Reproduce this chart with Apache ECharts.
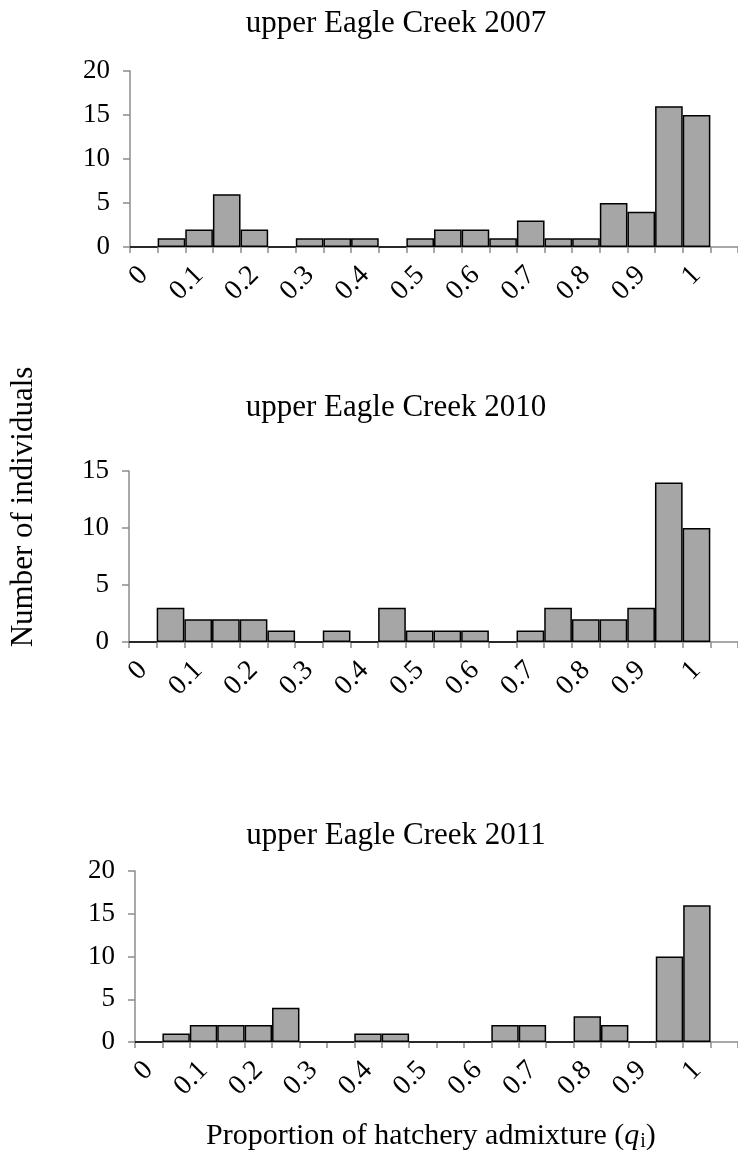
<!DOCTYPE html>
<html>
<head>
<meta charset="utf-8">
<script src="https://cdn.jsdelivr.net/npm/echarts@6/dist/echarts.min.js"></script>
<style>
  html, body { margin: 0; padding: 0; background: #fff; }
  #chart { width: 738px; height: 1150px; }
</style>
</head>
<body>
<div id="chart"></div>
<script>
// bin upper limits (0, 0.05, ... 1)
const bins = ['0', '0.05', '0.1', '0.15', '0.2', '0.25', '0.3', '0.35', '0.4', '0.45', '0.5',
  '0.55', '0.6', '0.65', '0.7', '0.75', '0.8', '0.85', '0.9', '0.95', '1']

const titles = ['upper Eagle Creek 2007', 'upper Eagle Creek 2010', 'upper Eagle Creek 2011']

const counts2007 = [0, 1, 2, 6, 2, 0, 1, 1, 1, 0, 1, 2, 2, 1, 3, 1, 1, 5, 4, 16, 15]
const counts2010 = [0, 3, 2, 2, 2, 1, 0, 1, 0, 3, 1, 1, 1, 0, 1, 3, 2, 2, 3, 14, 10]
const counts2011 = [0, 1, 2, 2, 2, 4, 0, 0, 1, 1, 0, 0, 0, 2, 2, 0, 3, 2, 0, 10, 16]

const yMax = [20, 15, 20]

const FONT = '"Liberation Serif", "Times New Roman", serif'
const chart = echarts.init(document.getElementById('chart'))

// axis runs a little past the last bin, like the original
const axisCats = bins.concat([''])

const grids = [
  { left: 130, right: -4, top: 71, height: 176 },
  { left: 129, right: -4, top: 471, height: 171 },
  { left: 135, right: -4, top: 871, height: 171 }
]
const titleTops = [3, 387, 815]
const allCounts = [counts2007, counts2010, counts2011]

const txt = { fontFamily: FONT, fontWeight: 'normal', color: '#000' }

const option = {
  animation: false,
  title: titles.map((t, i) => ({
    text: t,
    left: 391,
    textAlign: 'center',
    top: titleTops[i],
    textStyle: Object.assign({ fontSize: 31 }, txt)
  })).concat([{
    text: '{a|Proportion of hatchery admixture (}{q|q}{s|i}{a|)}',
    left: 201,
    top: 1115,
    textStyle: {
      fontWeight: 'normal',
      rich: {
        a: Object.assign({ fontSize: 30 }, txt),
        q: Object.assign({ fontSize: 30, fontStyle: 'italic' }, txt),
        s: Object.assign({ fontSize: 20, padding: [12, 0, 0, 1] }, txt)
      }
    }
  }]),
  graphic: [{
    type: 'text',
    x: 24,
    y: 507,
    rotation: Math.PI / 2,
    style: {
      text: 'Number of individuals',
      fontFamily: FONT,
      fontSize: 31,
      fill: '#000',
      align: 'center',
      verticalAlign: 'middle'
    }
  }],
  grid: grids,
  xAxis: grids.map((g, i) => ({
    type: 'category',
    gridIndex: i,
    data: axisCats,
    boundaryGap: true,
    axisLine: { lineStyle: { color: '#8c8c8c', width: 1.5 } },
    axisTick: { show: true, interval: 0, length: 6, lineStyle: { color: '#8c8c8c', width: 1.5 } },
    axisLabel: Object.assign({
      interval: 1,
      rotate: 45,
      margin: 24,
      fontSize: 28
    }, txt)
  })),
  yAxis: grids.map((g, i) => ({
    type: 'value',
    gridIndex: i,
    min: 0,
    max: yMax[i],
    interval: 5,
    splitLine: { show: false },
    axisLine: { show: true, lineStyle: { color: '#8c8c8c', width: 1.5 } },
    axisTick: { show: true, length: 7, lineStyle: { color: '#8c8c8c', width: 1.5 } },
    axisLabel: Object.assign({ margin: 20, fontSize: 27 }, txt)
  })),
  series: allCounts.map((d, i) => ({
    type: 'bar',
    xAxisIndex: i,
    yAxisIndex: i,
    data: d,
    barCategoryGap: 0,
    itemStyle: { color: '#a6a6a6', borderColor: '#000', borderWidth: 1.5 }
  }))
}

chart.setOption(option)
</script>
</body>
</html>
